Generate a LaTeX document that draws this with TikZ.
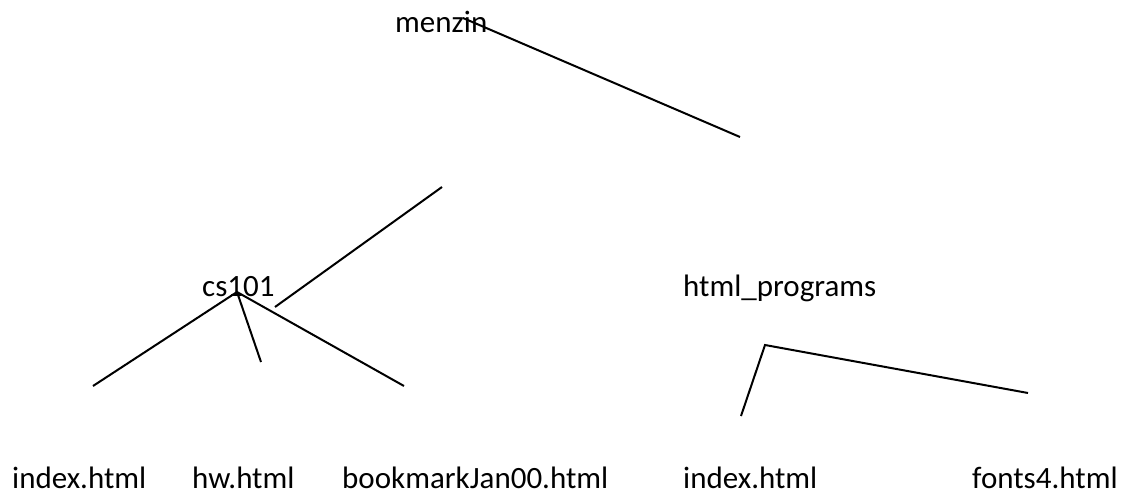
\documentclass[tikz,border=0pt]{standalone}
\usepackage{fontspec}
\setmainfont{Carlito}
\usepackage{tikz}

\begin{document}
\begin{tikzpicture}[x=1pt, y=-1pt]
    \tikzstyle{dirname}=[inner sep=0pt, anchor=base west, font=\fontsize{31}{37}\selectfont]
    \tikzstyle{edge}=[line width=2pt]
    \useasboundingbox (0,0) rectangle (1128,495);
    % directories
    \node[dirname] (menzin) at (395,33) {menzin};
    \node[dirname] (cs) at (202,296) {cs101};
    \node[dirname] (progs) at (683,296) {html\_programs};
    % files
    \node[dirname] (csindex) at (12,488) {index.html};
    \node[dirname] (hw) at (192,488) {hw.html};
    \node[dirname] (bookmark) at (342,488) {bookmarkJan00.html};
    \node[dirname] (progsindex) at (683,488) {index.html};
    \node[dirname] (fonts) at (972,488) {fonts4.html};
    % loose line ends
    \coordinate (top1) at (463,18);
    \coordinate (top2) at (740,137);
    \coordinate (mid1) at (442,187);
    \coordinate (mid2) at (275,307);
    \coordinate (csfork) at (237,292);
    \coordinate (csleft) at (93,386);
    \coordinate (csmid) at (261,362);
    \coordinate (csright) at (404,386);
    \coordinate (progsfork) at (765,345);
    \coordinate (progsleft) at (741,416);
    \coordinate (progsright) at (1028,393);
    \draw[edge] (top1) -- (top2);
    \draw[edge] (mid1) -- (mid2);
    \draw[edge] (csleft) -- (csfork) -- (csright);
    \draw[edge] (csfork) -- (csmid);
    \draw[edge] (progsleft) -- (progsfork) -- (progsright);
\end{tikzpicture}
\end{document}
